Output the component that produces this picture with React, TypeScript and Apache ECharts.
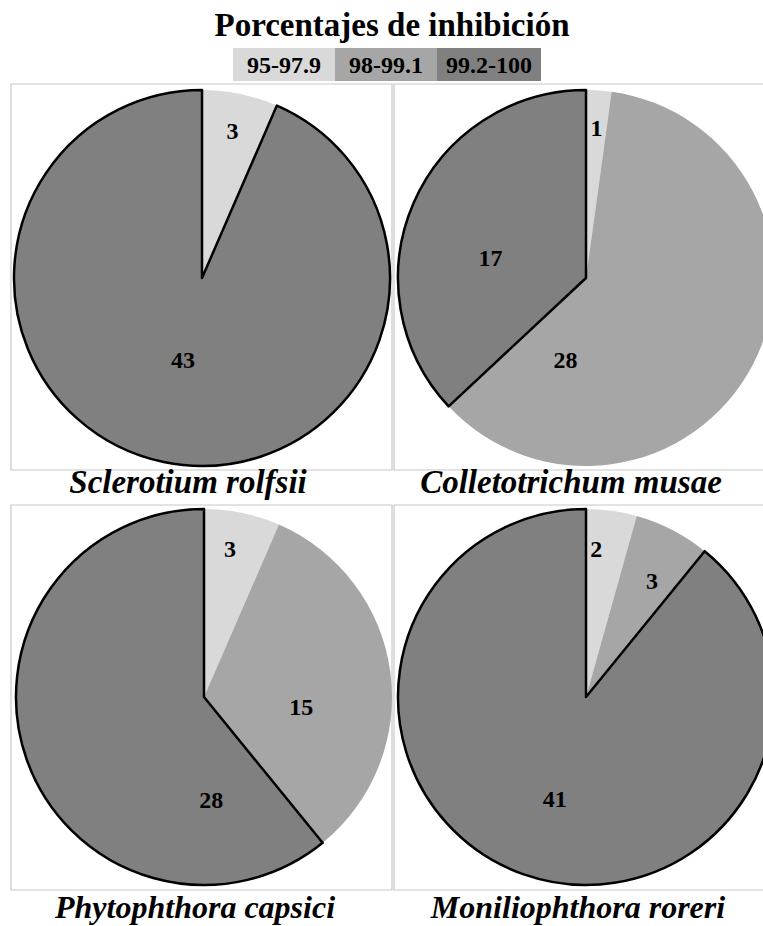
import React, { useEffect, useRef } from "react";
import * as echarts from "echarts";

const TITLE = "Porcentajes de inhibición";
const CATEGORIES = ["95-97.9", "98-99.1", "99.2-100"];
const SPECIES = [
  "Sclerotium rolfsii",
  "Colletotrichum musae",
  "Phytophthora capsici",
  "Moniliophthora roreri",
];
const SCLEROTIUM = [3, 0, 43];
const COLLETOTRICHUM = [1, 28, 17];
const PHYTOPHTHORA = [3, 15, 28];
const MONILIOPHTHORA = [2, 3, 41];
const SERIES_VALUES = [SCLEROTIUM, COLLETOTRICHUM, PHYTOPHTHORA, MONILIOPHTHORA];

// styling / layout
const COLORS = ["#d9d9d9", "#a6a6a6", "#808080"];
const PIE_CENTERS = [
  [202, 278],
  [586, 278],
  [204, 697],
  [586, 697],
];
const RADIUS = 188;
// label placement: [angle clockwise from 12 o'clock in degrees, fraction of radius]
const LABEL_POLAR: (number[] | null)[][] = [
  [[11.7, 0.8], null, [193, 0.45]],
  [[4, 0.8], [194, 0.45], [282, 0.52]],
  [[10, 0.8], [96, 0.52], [176, 0.55]],
  [[4, 0.79], [29.6, 0.71], [197, 0.57]],
];
const NAME_POS = [
  [188, 482],
  [571, 482],
  [195, 907],
  [578, 907],
];
const NAME_SIZE = [33, 33, 32, 32];
const LEGEND_BOXES = [
  [233, 335],
  [335, 437],
  [437, 541],
];
const FONT = "Liberation Serif, Times New Roman, serif";
const FRAME = "#c8c8c8";

export default function App() {
  const ref = useRef<HTMLDivElement>(null);

  useEffect(() => {
    if (!ref.current) return;
    const chart = echarts.init(ref.current, undefined, { renderer: "svg" });

    const series = SERIES_VALUES.map((vals, s) => ({
      type: "pie",
      center: PIE_CENTERS[s],
      radius: RADIUS,
      startAngle: 90,
      clockwise: true,
      avoidLabelOverlap: false,
      silent: true,
      emphasis: { disabled: true },
      labelLine: { show: false },
      label: {
        show: true,
        position: "inside",
        formatter: "{c}",
        color: "#000",
        fontFamily: FONT,
        fontWeight: "bold",
        fontSize: 24,
      },
      labelLayout: (params: any) => {
        const p = LABEL_POLAR[s][params.dataIndex];
        if (!p) return {};
        const [cx, cy] = PIE_CENTERS[s];
        const a = (p[0] * Math.PI) / 180;
        return {
          x: cx + Math.sin(a) * p[1] * RADIUS,
          y: cy - Math.cos(a) * p[1] * RADIUS,
          align: "center",
          verticalAlign: "middle",
        };
      },
      data: vals.map((v, i) => ({
        name: CATEGORIES[i],
        value: v,
        label: { show: v > 0 },
        itemStyle:
          i === 2
            ? { color: COLORS[i], borderColor: "#000", borderWidth: 2.5 }
            : { color: COLORS[i], borderWidth: 0 },
      })),
    }));

    const graphics: any[] = [];
    // panel frames
    const frames = [
      [11, 84, 381, 386],
      [394, 84, 380, 386],
      [11, 505, 381, 385],
      [394, 505, 380, 385],
    ];
    frames.forEach(([x, y, w, h]) =>
      graphics.push({
        type: "rect",
        silent: true,
        z: -1,
        shape: { x, y, width: w, height: h },
        style: { fill: "none", stroke: FRAME, lineWidth: 1.2 },
      })
    );
    // title
    graphics.push({
      type: "text",
      x: 392,
      y: 25,
      style: {
        text: TITLE,
        align: "center",
        verticalAlign: "middle",
        fontFamily: FONT,
        fontWeight: "bold",
        fontSize: 33,
        fill: "#000",
      },
    });
    // legend
    CATEGORIES.forEach((c, i) => {
      const [x0, x1] = LEGEND_BOXES[i];
      graphics.push({
        type: "rect",
        shape: { x: x0, y: 48, width: x1 - x0, height: 33 },
        style: { fill: COLORS[i] },
      });
      graphics.push({
        type: "text",
        x: (x0 + x1) / 2,
        y: 65,
        style: {
          text: c,
          align: "center",
          verticalAlign: "middle",
          fontFamily: FONT,
          fontWeight: "bold",
          fontSize: 24,
          fill: "#000",
        },
      });
    });
    // species names
    SPECIES.forEach((n, i) =>
      graphics.push({
        type: "text",
        x: NAME_POS[i][0],
        y: NAME_POS[i][1],
        style: {
          text: n,
          align: "center",
          verticalAlign: "middle",
          fontFamily: FONT,
          fontWeight: "bold",
          fontStyle: "italic",
          fontSize: NAME_SIZE[i],
          fill: "#000",
        },
      })
    );

    chart.setOption({
      animation: false,
      backgroundColor: "#fff",
      series,
      graphic: graphics,
    });

    return () => chart.dispose();
  }, []);

  return (
    <div
      ref={ref}
      style={{ position: "absolute", left: 0, top: 0, width: 763, height: 926 }}
    />
  );
}
